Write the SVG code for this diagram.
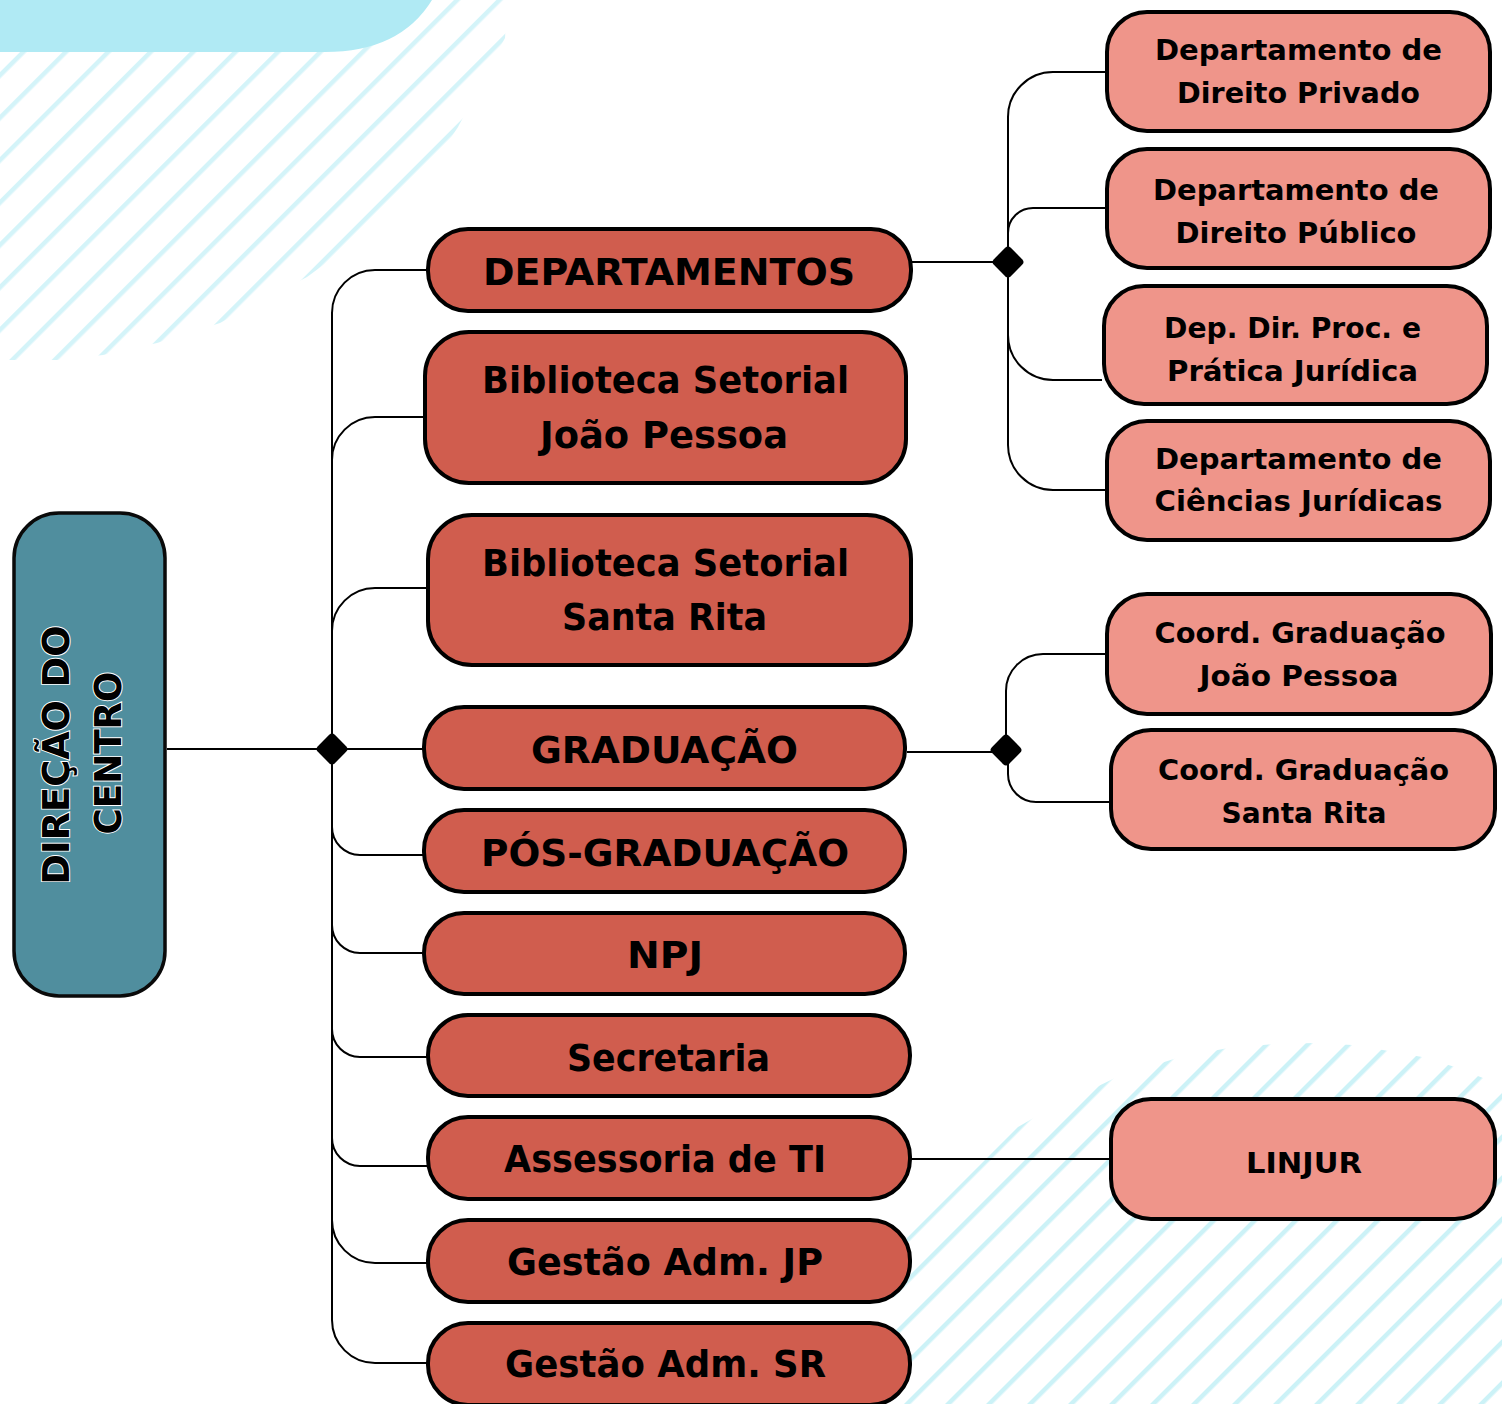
<svg xmlns="http://www.w3.org/2000/svg" width="1502" height="1404" viewBox="0 0 1502 1404">
<style>
.red{fill:#D05D4E;stroke:#000;stroke-width:4}
.pink{fill:#EF958A;stroke:#000;stroke-width:4}
.root{fill:#508E9E;stroke:#0A0A0A;stroke-width:3.5}
.t{font-family:"DejaVu Sans","Liberation Sans",sans-serif;font-weight:700;fill:#000;text-anchor:middle}
.tr{font-size:37.5px}
.tp{font-size:29px}
.troot{font-size:37px;stroke:#fff;stroke-width:2;paint-order:stroke}
.c{fill:none;stroke:#000;stroke-width:2}
</style>
<defs>
<pattern id="hatchA" patternUnits="userSpaceOnUse" width="30" height="30" patternTransform="rotate(45) translate(21,0)">
<rect x="0" y="0" width="4.5" height="30" fill="#D4F4F9"/>
</pattern>
<pattern id="hatchB" patternUnits="userSpaceOnUse" width="29" height="29" patternTransform="rotate(45) translate(8,0)">
<rect x="0" y="0" width="4.5" height="29" fill="#CCF2F7"/>
</pattern>
<clipPath id="clipA">
<polygon points="0,0 507,0 505,38 458,127 443,150 380,215 333,258 307,277 220,323 157,343 103,355 57,360 0,360"/>
</clipPath>
<clipPath id="clipB">
<polygon points="893,1404 895,1250 1018,1127 1037,1116 1117,1077 1177,1058 1228,1048 1274,1044 1315,1043 1352,1045 1389,1051 1422,1057 1455,1067 1483,1078 1502,1090 1502,1404"/>
</clipPath>
</defs>
<rect x="0" y="0" width="1502" height="1404" fill="#fff"/>
<g id="background">
<rect x="0" y="0" width="510" height="362" fill="url(#hatchA)" clip-path="url(#clipA)"/>
<rect x="880" y="1040" width="622" height="364" fill="url(#hatchB)" clip-path="url(#clipB)"/>
<path d="M0,0 H432 Q400,52 325,52 H0 Z" fill="#B0EAF4"/>
</g>
<g id="connectors">
<path class="c" d="M167,749 H423"/>
<path class="c" d="M332,313 V1320"/>
<path class="c" d="M332,313 A43,43 0 0 1 375,270 H427"/>
<path class="c" d="M332,460 A43,43 0 0 1 375,417 H423"/>
<path class="c" d="M332,631 A43,43 0 0 1 375,588 H427"/>
<path class="c" d="M332,827 A28,28 0 0 0 360,855 H423"/>
<path class="c" d="M332,925 A28,28 0 0 0 360,953 H423"/>
<path class="c" d="M332,1029 A28,28 0 0 0 360,1057 H427"/>
<path class="c" d="M332,1138 A28,28 0 0 0 360,1166 H427"/>
<path class="c" d="M332,1220 A43,43 0 0 0 375,1263 H427"/>
<path class="c" d="M332,1320 A43,43 0 0 0 375,1363 H427"/>
<path class="c" d="M911,262 H1008"/>
<path class="c" d="M1008,117 V445"/>
<path class="c" d="M1008,117 A45,45 0 0 1 1053,72 H1105"/>
<path class="c" d="M1008,233 A25,25 0 0 1 1033,208 H1105"/>
<path class="c" d="M1008,335 A45,45 0 0 0 1053,380 H1102"/>
<path class="c" d="M1008,445 A45,45 0 0 0 1053,490 H1105"/>
<path class="c" d="M907,752 H1006"/>
<path class="c" d="M1006,750 V691 A37,37 0 0 1 1043,654 H1105"/>
<path class="c" d="M1008,750 V774 A28,28 0 0 0 1036,802 H1109"/>
<path class="c" d="M911,1159 H1109"/>
<rect x="320" y="737" width="24" height="24" rx="4" transform="rotate(45 332 749)" fill="#000"/>
<rect x="996" y="250" width="24" height="24" rx="4" transform="rotate(45 1008 262)" fill="#000"/>
<rect x="994" y="738" width="24" height="24" rx="4" transform="rotate(45 1006 750)" fill="#000"/>
</g>
<g id="node-direcao">
<rect class="root" x="14" y="513" width="151" height="483" rx="45"/>
<text class="t troot" transform="translate(69,755) rotate(-90)" textLength="259" lengthAdjust="spacingAndGlyphs">DIREÇÃO DO</text>
<text class="t troot" transform="translate(121,753) rotate(-90)" textLength="163" lengthAdjust="spacingAndGlyphs">CENTRO</text>
</g>
<g id="node-departamentos">
<rect class="red" x="428" y="229" width="483" height="82" rx="40"/>
<text class="t tr" x="669" y="285" textLength="372" lengthAdjust="spacingAndGlyphs">DEPARTAMENTOS</text>
</g>
<g id="node-biblioteca-jp">
<rect class="red" x="425" y="332" width="481" height="151" rx="44"/>
<text class="t tr" x="665.5" y="393" textLength="367" lengthAdjust="spacingAndGlyphs">Biblioteca Setorial</text>
<text class="t tr" x="664" y="448" textLength="248" lengthAdjust="spacingAndGlyphs">João Pessoa</text>
</g>
<g id="node-biblioteca-sr">
<rect class="red" x="428" y="515" width="483" height="150" rx="44"/>
<text class="t tr" x="665.5" y="576" textLength="367" lengthAdjust="spacingAndGlyphs">Biblioteca Setorial</text>
<text class="t tr" x="664.5" y="630" textLength="205" lengthAdjust="spacingAndGlyphs">Santa Rita</text>
</g>
<g id="node-graduacao">
<rect class="red" x="424" y="707" width="481" height="82" rx="40"/>
<text class="t tr" x="664.5" y="763" textLength="267" lengthAdjust="spacingAndGlyphs">GRADUAÇÃO</text>
</g>
<g id="node-pos-graduacao">
<rect class="red" x="424" y="810" width="481" height="82" rx="40"/>
<text class="t tr" x="665" y="866" textLength="368" lengthAdjust="spacingAndGlyphs">PÓS-GRADUAÇÃO</text>
</g>
<g id="node-npj">
<rect class="red" x="424" y="913" width="481" height="81" rx="40"/>
<text class="t tr" x="665" y="968" textLength="76" lengthAdjust="spacingAndGlyphs">NPJ</text>
</g>
<g id="node-secretaria">
<rect class="red" x="428" y="1015" width="482" height="81" rx="40"/>
<text class="t tr" x="668.5" y="1071" textLength="203" lengthAdjust="spacingAndGlyphs">Secretaria</text>
</g>
<g id="node-assessoria-ti">
<rect class="red" x="428" y="1117" width="482" height="82" rx="40"/>
<text class="t tr" x="665" y="1172" textLength="322" lengthAdjust="spacingAndGlyphs">Assessoria de TI</text>
</g>
<g id="node-gestao-jp">
<rect class="red" x="428" y="1220" width="482" height="82" rx="40"/>
<text class="t tr" x="665" y="1275" textLength="316" lengthAdjust="spacingAndGlyphs">Gestão Adm. JP</text>
</g>
<g id="node-gestao-sr">
<rect class="red" x="428" y="1323" width="482" height="82" rx="40"/>
<text class="t tr" x="665.5" y="1377" textLength="321" lengthAdjust="spacingAndGlyphs">Gestão Adm. SR</text>
</g>
<g id="node-dep-privado">
<rect class="pink" x="1107" y="12" width="383" height="119" rx="40"/>
<text class="t tp" x="1298.5" y="60" textLength="287" lengthAdjust="spacingAndGlyphs">Departamento de</text>
<text class="t tp" x="1298.5" y="103" textLength="243" lengthAdjust="spacingAndGlyphs">Direito Privado</text>
</g>
<g id="node-dep-publico">
<rect class="pink" x="1107" y="149" width="383" height="119" rx="40"/>
<text class="t tp" x="1296" y="200" textLength="286" lengthAdjust="spacingAndGlyphs">Departamento de</text>
<text class="t tp" x="1296" y="243" textLength="241" lengthAdjust="spacingAndGlyphs">Direito Público</text>
</g>
<g id="node-dep-processual">
<rect class="pink" x="1104" y="286" width="383" height="118" rx="40"/>
<text class="t tp" x="1292.5" y="338" textLength="257" lengthAdjust="spacingAndGlyphs">Dep. Dir. Proc. e</text>
<text class="t tp" x="1292.5" y="381" textLength="251" lengthAdjust="spacingAndGlyphs">Prática Jurídica</text>
</g>
<g id="node-dep-ciencias">
<rect class="pink" x="1107" y="421" width="383" height="119" rx="40"/>
<text class="t tp" x="1298.5" y="469" textLength="287" lengthAdjust="spacingAndGlyphs">Departamento de</text>
<text class="t tp" x="1298.5" y="511" textLength="288" lengthAdjust="spacingAndGlyphs">Ciências Jurídicas</text>
</g>
<g id="node-coord-jp">
<rect class="pink" x="1107" y="594" width="384" height="120" rx="40"/>
<text class="t tp" x="1300" y="643" textLength="291" lengthAdjust="spacingAndGlyphs">Coord. Graduação</text>
<text class="t tp" x="1299" y="686" textLength="199" lengthAdjust="spacingAndGlyphs">João Pessoa</text>
</g>
<g id="node-coord-sr">
<rect class="pink" x="1111" y="730" width="384" height="119" rx="40"/>
<text class="t tp" x="1303.5" y="780" textLength="291" lengthAdjust="spacingAndGlyphs">Coord. Graduação</text>
<text class="t tp" x="1304" y="823" textLength="165" lengthAdjust="spacingAndGlyphs">Santa Rita</text>
</g>
<g id="node-linjur">
<rect class="pink" x="1111" y="1099" width="384" height="120" rx="40"/>
<text class="t tp" x="1304" y="1173" textLength="116" lengthAdjust="spacingAndGlyphs">LINJUR</text>
</g>
</svg>
